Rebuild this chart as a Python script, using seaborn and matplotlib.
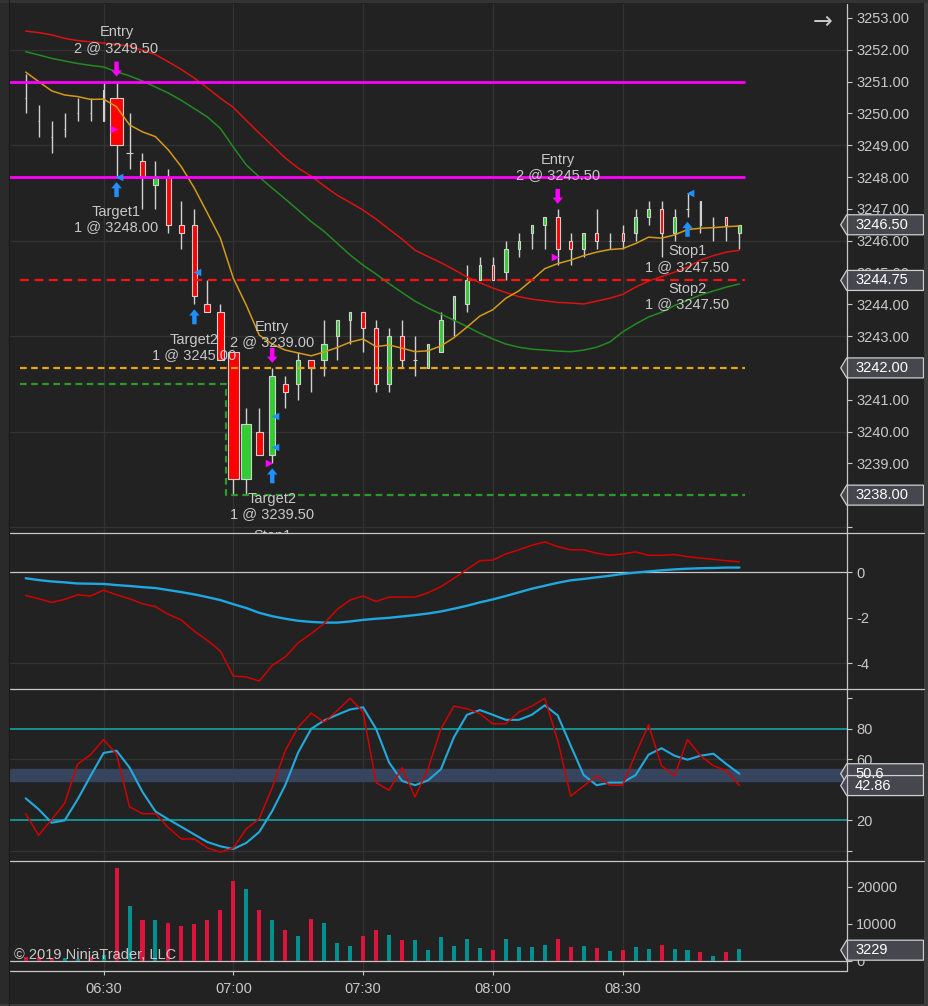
import numpy as np
import pandas as pd
import matplotlib
matplotlib.use("Agg")
import matplotlib.pyplot as plt
import seaborn as sns
from matplotlib.lines import Line2D
from matplotlib.patches import Polygon, Rectangle
from matplotlib import transforms

# ---- data (3 minute bars, 06:12 -> 08:57) ----
opens = [3250.50, 3249.75, 3249.25, 3249.50, 3250.00, 3250.00, 3249.75, 3250.50, 3248.75, 3248.50,
         3247.75, 3248.00, 3246.50, 3246.50, 3244.00, 3243.75, 3242.50, 3238.50, 3240.00, 3239.25,
         3241.50, 3241.50, 3242.25, 3242.25, 3243.00, 3243.50, 3243.75, 3243.25, 3241.50, 3243.00,
         3242.25, 3242.00, 3242.50, 3243.50, 3244.00, 3244.75, 3245.25, 3245.00, 3245.75, 3246.25,
         3246.50, 3246.75, 3246.00, 3245.75, 3246.25, 3246.00, 3246.25, 3246.25, 3246.75, 3247.00,
         3246.25, 3247.00, 3247.25, 3246.50, 3246.75, 3246.25]
highs = [3251.25, 3250.25, 3249.75, 3250.00, 3250.50, 3250.50, 3251.00, 3251.00, 3250.00, 3248.75,
         3248.50, 3248.25, 3247.25, 3247.00, 3244.75, 3244.00, 3242.50, 3240.75, 3240.75, 3242.00,
         3241.75, 3242.50, 3242.25, 3243.50, 3243.50, 3243.75, 3243.75, 3243.50, 3243.25, 3243.50,
         3243.00, 3242.75, 3243.75, 3244.25, 3245.25, 3245.50, 3245.50, 3246.00, 3246.25, 3246.50,
         3246.75, 3247.00, 3246.25, 3246.25, 3247.00, 3246.25, 3246.50, 3247.00, 3247.25, 3247.25,
         3247.00, 3247.50, 3247.25, 3246.75, 3246.75, 3246.50]
lows = [3250.00, 3249.25, 3248.75, 3249.25, 3249.75, 3249.75, 3249.75, 3248.00, 3248.25, 3247.00,
        3247.00, 3246.25, 3245.75, 3244.00, 3243.75, 3242.25, 3238.00, 3238.00, 3239.25, 3239.00,
        3240.75, 3241.00, 3241.25, 3241.75, 3242.25, 3242.75, 3242.50, 3241.25, 3241.25, 3242.00,
        3241.75, 3242.00, 3242.50, 3243.00, 3243.75, 3244.75, 3244.75, 3244.75, 3245.50, 3245.75,
        3245.75, 3245.25, 3245.25, 3245.50, 3245.75, 3245.75, 3245.75, 3246.00, 3246.50, 3245.50,
        3246.00, 3246.75, 3246.25, 3246.00, 3246.00, 3245.75]
closes = [3250.50, 3249.75, 3249.25, 3249.50, 3250.00, 3250.00, 3250.75, 3249.00, 3248.75, 3248.00,
          3248.00, 3246.50, 3246.25, 3244.25, 3243.75, 3242.25, 3238.50, 3240.25, 3239.25, 3241.75,
          3241.25, 3242.25, 3242.00, 3242.75, 3243.50, 3243.75, 3243.25, 3241.50, 3243.00, 3242.25,
          3242.25, 3242.75, 3243.50, 3244.25, 3244.75, 3245.25, 3244.75, 3245.75, 3246.00, 3246.50,
          3246.75, 3245.75, 3245.75, 3246.25, 3246.00, 3246.00, 3246.00, 3246.75, 3247.00, 3246.25,
          3246.75, 3247.00, 3246.50, 3246.50, 3246.50, 3246.50]
volume = [1100, 1200, 800, 900, 600, 1100, 1500, 25000, 14900, 11100,
          10900, 10300, 9500, 10000, 11100, 13800, 21400, 19300, 13800, 11100,
          8400, 6800, 11400, 10300, 4900, 4100, 6800, 8400, 7100, 5700,
          5700, 3000, 6500, 4100, 6000, 3500, 3000, 6000, 3800, 3800,
          4300, 6000, 3800, 4100, 3500, 2700, 3000, 3800, 3300, 4300,
          3300, 3000, 2400, 1400, 2400, 3229]
vol_side = list("ddduududud" "uddddddudu" "duduuuddud" "uuuuuuduuu" "uddududuud" "uududu")

ma_fast = [3251.30, 3251.00, 3250.71, 3250.58, 3250.53, 3250.44, 3250.45, 3250.21, 3249.64, 3249.42,
           3249.27, 3248.85, 3248.32, 3247.65, 3246.87, 3246.08, 3244.82, 3243.97, 3243.03, 3242.75,
           3242.56, 3242.47, 3242.38, 3242.50, 3242.64, 3242.81, 3242.91, 3242.67, 3242.72, 3242.62,
           3242.51, 3242.54, 3242.69, 3242.95, 3243.28, 3243.63, 3243.83, 3244.19, 3244.42, 3244.76,
           3245.12, 3245.28, 3245.39, 3245.53, 3245.64, 3245.72, 3245.75, 3245.91, 3246.11, 3246.08,
           3246.18, 3246.35, 3246.39, 3246.41, 3246.44, 3246.46]
ma_mid = [3251.94, 3251.84, 3251.73, 3251.65, 3251.57, 3251.51, 3251.46, 3251.31, 3251.18, 3251.02,
          3250.83, 3250.64, 3250.41, 3250.15, 3249.89, 3249.53, 3248.94, 3248.38, 3248.00, 3247.65,
          3247.31, 3246.96, 3246.60, 3246.29, 3245.92, 3245.55, 3245.23, 3244.95, 3244.65, 3244.37,
          3244.10, 3243.88, 3243.69, 3243.50, 3243.30, 3243.09, 3242.91, 3242.75, 3242.65, 3242.59,
          3242.56, 3242.53, 3242.51, 3242.56, 3242.65, 3242.81, 3243.13, 3243.38, 3243.60, 3243.75,
          3243.96, 3244.13, 3244.29, 3244.42, 3244.54, 3244.64]
ma_slow = [3252.59, 3252.54, 3252.47, 3252.36, 3252.29, 3252.25, 3252.21, 3252.17, 3252.12, 3251.99,
           3251.85, 3251.62, 3251.38, 3251.11, 3250.80, 3250.48, 3250.19, 3249.78, 3249.38, 3248.99,
           3248.60, 3248.28, 3248.03, 3247.72, 3247.43, 3247.20, 3246.96, 3246.68, 3246.36, 3246.05,
           3245.70, 3245.50, 3245.31, 3245.09, 3244.86, 3244.68, 3244.51, 3244.37, 3244.24, 3244.16,
           3244.11, 3244.06, 3244.04, 3244.01, 3244.10, 3244.19, 3244.31, 3244.54, 3244.73, 3244.87,
           3245.01, 3245.17, 3245.39, 3245.53, 3245.64, 3245.70]

macd = [-1.02, -1.16, -1.32, -1.19, -0.99, -1.04, -0.78, -0.99, -1.16, -1.38,
        -1.51, -1.85, -2.10, -2.59, -2.99, -3.46, -4.56, -4.60, -4.78, -4.09,
        -3.72, -3.10, -2.69, -2.25, -1.63, -1.22, -1.04, -1.28, -1.09, -1.09,
        -1.09, -0.90, -0.63, -0.26, 0.13, 0.51, 0.54, 0.81, 0.99, 1.19,
        1.34, 1.13, 0.99, 0.99, 0.84, 0.75, 0.81, 0.90, 0.75, 0.75,
        0.78, 0.69, 0.63, 0.57, 0.51, 0.46]
macd_avg = [-0.26, -0.34, -0.40, -0.44, -0.49, -0.50, -0.51, -0.56, -0.60, -0.65,
            -0.69, -0.78, -0.87, -0.97, -1.09, -1.22, -1.40, -1.57, -1.78, -1.93,
            -2.04, -2.13, -2.18, -2.21, -2.21, -2.16, -2.09, -2.04, -2.00, -1.94,
            -1.88, -1.81, -1.72, -1.60, -1.47, -1.32, -1.19, -1.04, -0.88, -0.72,
            -0.59, -0.46, -0.35, -0.29, -0.22, -0.15, -0.07, -0.01, 0.04, 0.09,
            0.13, 0.16, 0.18, 0.19, 0.21, 0.21]

stoch_k = [24.4, 10.3, 20.7, 31.2, 56.9, 63.1, 73.0, 63.5, 29.0, 24.4,
           24.4, 15.2, 7.9, 7.9, 2.0, -0.7, 2.0, 14.5, 21.3, 41.5,
           65.7, 81.1, 90.3, 84.4, 91.9, 100.0, 91.0, 44.8, 39.8, 54.5,
           35.4, 53.6, 80.0, 94.9, 93.2, 89.9, 83.3, 83.3, 91.0, 94.9,
           100.0, 72.3, 36.0, 42.6, 49.2, 43.1, 43.1, 63.5, 82.6, 55.8,
           49.2, 73.0, 62.4, 55.8, 52.5, 42.86]
stoch_d = [34.5, 27.3, 18.5, 20.0, 33.8, 49.2, 64.2, 65.7, 54.7, 38.7,
           25.9, 20.7, 15.8, 10.8, 5.9, 3.1, 1.3, 5.3, 12.5, 26.2,
           43.1, 64.6, 80.0, 85.5, 89.2, 92.7, 94.1, 80.0, 58.0, 45.9,
           43.1, 46.2, 53.6, 74.5, 89.2, 92.3, 89.2, 85.9, 85.9, 89.2,
           95.4, 88.8, 69.0, 49.7, 43.1, 44.8, 44.8, 49.7, 63.1, 67.3,
           62.4, 59.8, 62.4, 63.7, 56.9, 50.6]

time_ticks = [6, 16, 26, 36, 46]
time_labels = ["06:30", "07:00", "07:30", "08:00", "08:30"]

# strategy levels and executions
target_lines = [3251.00, 3248.00]
stop_line = 3244.75
avg_line = 3242.00
trail_levels = [3241.50, 3238.00]
trail_step_bar = 16
entry_fills = [(7, 3249.50), (19, 3239.00), (41, 3245.50)]
exit_fills = [(7, 3248.00), (13, 3245.00), (19, 3240.50), (19, 3239.50), (51, 3247.50)]
entry_arrow_bars = [7, 19, 41]
exit_arrow_bars = [7, 13, 19, 51]
order_labels = [(7, 3252.31, "Entry\n2 @ 3249.50"),
                (7, 3246.66, "Target1\n1 @ 3248.00"),
                (13, 3242.64, "Target2\n1 @ 3245.00"),
                (19, 3243.04, "Entry\n2 @ 3239.00"),
                (19, 3237.65, "Target2\n1 @ 3239.50"),
                (41, 3248.30, "Entry\n2 @ 3245.50"),
                (51, 3245.42, "Stop1\n1 @ 3247.50"),
                (51, 3244.25, "Stop2\n1 @ 3247.50")]

# ---- styling ----
BG = "#222222"
TXT = "#c8c8c8"
GRID = "#333333"
sns.set_theme(style="dark", rc={"axes.facecolor": BG, "figure.facecolor": BG,
                                "axes.unicode_minus": False, "axes.axisbelow": True})
plt.rcParams["font.family"] = ["Liberation Sans", "DejaVu Sans"]

W, H = 929, 1006
fig = plt.figure(figsize=(W / 100, H / 100), dpi=100)


def rect(x0, y0, x1, y1):
    return [x0 / W, 1 - y1 / H, (x1 - x0) / W, (y1 - y0) / H]


X0, X1 = 10, 847.5
panes = {"price": (4, 533), "macd": (533, 689), "stoch": (689, 861), "vol": (861, 971)}
ax_p = fig.add_axes(rect(X0, 4, X1, 533))
ax_m = fig.add_axes(rect(X0, 533, X1, 689), sharex=ax_p)
ax_s = fig.add_axes(rect(X0, 689, X1, 861), sharex=ax_p)
ax_v = fig.add_axes(rect(X0, 861, X1, 971), sharex=ax_p)
axes = [ax_p, ax_m, ax_s, ax_v]

x = np.arange(len(closes))
o, h, l, c = map(np.array, (opens, highs, lows, closes))
vol = np.array(volume)

# ---- price pane ----
ax_p.set_ylim(3236.81, 3253.44)
ppu_p = (533 - 4) / (3253.44 - 3236.81)
# candle body width follows volume (volume-weighted candles)
body_w = (0.8 + 0.46 * vol / 1000) / 12.975
fill = np.where(c > o, "#33cc33", "#ff0000")
ax_p.vlines(x, l, h, color="#d0d0d0", lw=1, zorder=3)
ax_p.bar(x, np.abs(c - o), bottom=np.minimum(o, c), width=body_w, color=fill,
         edgecolor="#d0d0d0", linewidth=0.8, zorder=4)

df_ma = pd.DataFrame({"bar": x, "fast": ma_fast, "mid": ma_mid, "slow": ma_slow})
sns.lineplot(data=df_ma, x="bar", y="slow", color="#dd1111", lw=1.1, ax=ax_p, zorder=5)
sns.lineplot(data=df_ma, x="bar", y="mid", color="#228b22", lw=1.1, ax=ax_p, zorder=5)
sns.lineplot(data=df_ma, x="bar", y="fast", color="#d49a1a", lw=1.1, ax=ax_p, zorder=5)

line_end = len(x) - 0.56
for lv in target_lines:
    ax_p.hlines(lv, -1.3, line_end, color="#ff00ff", lw=2, zorder=6)
ax_p.hlines(stop_line, -0.45, line_end, color="#ff1111", lw=1.6, ls=(0, (4, 2.5)), zorder=6)
ax_p.hlines(avg_line, -0.45, line_end, color="#e8a317", lw=1.6, ls=(0, (3, 2)), zorder=6)
step_x = trail_step_bar - 0.55
ax_p.plot([-0.45, step_x, step_x, line_end],
          [trail_levels[0], trail_levels[0], trail_levels[1], trail_levels[1]],
          color="#2a9a2a", lw=1.6, ls=(0, (3, 2)), zorder=6)

# execution markers
ex = pd.DataFrame(entry_fills, columns=["bar", "price"])
xx = pd.DataFrame(exit_fills, columns=["bar", "price"])
sns.scatterplot(x=ex["bar"] - 0.22, y=ex["price"], marker=">", color="#ff00ff", s=30,
                linewidth=0, ax=ax_p, zorder=9)
sns.scatterplot(x=xx["bar"] + 0.22, y=xx["price"], marker="<", color="#1e90ff", s=30,
                linewidth=0, ax=ax_p, zorder=9)

arrow_off = 5 / ppu_p
arrow_len = 15 / ppu_p
astyle = "simple,head_length=0.45,head_width=0.75,tail_width=0.32"
for b in entry_arrow_bars:
    tip = h[b] + arrow_off
    ax_p.annotate("", xy=(b, tip), xytext=(b, tip + arrow_len),
                  arrowprops=dict(arrowstyle=astyle, fc="#ff00ff", ec="none",
                                  shrinkA=0, shrinkB=0, mutation_scale=10), zorder=9)
for b in exit_arrow_bars:
    tip = l[b] - arrow_off
    ax_p.annotate("", xy=(b, tip), xytext=(b, tip - arrow_len),
                  arrowprops=dict(arrowstyle=astyle, fc="#1e90ff", ec="none",
                                  shrinkA=0, shrinkB=0, mutation_scale=10), zorder=9)

for b, yv, txt in order_labels:
    ax_p.text(b, yv, txt, ha="center", va="center", color=TXT, fontsize=10.5,
              linespacing=1.12, zorder=10)
ax_p.text(19, 3236.72, "Stop1", ha="center", va="center", color=TXT, fontsize=10.5,
          clip_on=True, zorder=10)

ax_p.set_yticks(np.arange(3237, 3254, 1.0))
ax_p.set_yticklabels([""] + [f"{v:.2f}" for v in np.arange(3238, 3254, 1.0)])
for g in np.arange(3237, 3254, 3):
    ax_p.axhline(g, color=GRID, lw=0.9, zorder=0)

# ---- MACD pane ----
ax_m.set_ylim(-5.13, 1.73)
df_m = pd.DataFrame({"bar": x, "macd": macd, "avg": macd_avg})
ax_m.axhline(0, color="#c8c8c8", lw=0.9, zorder=1)
ax_m.axhline(-4, color=GRID, lw=0.9, zorder=0)
sns.lineplot(data=df_m, x="bar", y="avg", color="#1ea7e1", lw=1.7, ax=ax_m, zorder=4)
sns.lineplot(data=df_m, x="bar", y="macd", color="#d40000", lw=1.1, ax=ax_m, zorder=5)
ax_m.set_yticks([0, -2, -4])
ax_m.set_yticklabels(["0", "-2", "-4"])

# ---- stochastics pane ----
ax_s.set_ylim(-6.55, 106.1)
ax_s.axhspan(46, 54, color="#36445e", zorder=1)
for g in (0, 60):
    ax_s.axhline(g, color=GRID, lw=0.9, zorder=0)
for g in (20, 80):
    ax_s.axhline(g, color="#129a9a", lw=1.3, zorder=2)
df_s = pd.DataFrame({"bar": x, "k": stoch_k, "d": stoch_d})
sns.lineplot(data=df_s, x="bar", y="d", color="#22aadd", lw=1.5, ax=ax_s, zorder=4)
sns.lineplot(data=df_s, x="bar", y="k", color="#d40000", lw=1.1, ax=ax_s, zorder=5)
ax_s.set_yticks([0, 20, 40, 60, 80, 100])
ax_s.set_yticklabels(["", "20", "40", "60", "80", ""])

# ---- volume pane ----
ax_v.set_ylim(-2690, 26880)
ax_v.axhline(0, color="#c8c8c8", lw=0.9, zorder=1)
df_v = pd.DataFrame({"bar": x, "vol": vol, "side": vol_side})
sns.barplot(data=df_v, x="bar", y="vol", hue="side", native_scale=True, dodge=False,
            palette={"d": "#dc143c", "u": "#009090"}, width=0.31, legend=False,
            edgecolor="none", linewidth=0, saturation=1, ax=ax_v, zorder=3)
ax_v.set_yticks([0, 10000, 20000])
ax_v.set_yticklabels(["0", "10000", "20000"])

# ---- shared axis cosmetics ----
ax_p.set_xlim(-1.21, 63.33)
for ax in axes:
    for s in ax.spines.values():
        s.set_visible(False)
    ax.set_xlabel("")
    ax.set_ylabel("")
    ax.yaxis.tick_right()
    ax.tick_params(axis="y", colors=TXT, labelsize=10.5, length=3.6, width=0.8,
                   pad=2.5, direction="out", left=False, right=True)
    for t in time_ticks:
        ax.axvline(t, color=GRID, lw=0.9, zorder=0)
    ax.grid(False)
for ax in axes[:-1]:
    ax.tick_params(axis="x", bottom=False, labelbottom=False)
ax_v.set_xticks(time_ticks)
ax_v.set_xticklabels(time_labels)
ax_v.tick_params(axis="x", colors=TXT, labelsize=10.5, length=3, width=0.8, pad=5,
                 bottom=True, labelbottom=True)


# price boxes on the right axis
def value_box(ax, pane, val, txt):
    ytop, ybot = pane
    lo, hi = ax.get_ylim()
    half = 10 * (hi - lo) / (ybot - ytop)
    tr = transforms.blended_transform_factory(fig.transFigure, ax.transData)
    pts = [(840.7 / W, val), (846.7 / W, val + half), (923.5 / W, val + half),
           (923.5 / W, val - half), (846.7 / W, val - half)]
    ax.add_patch(Polygon(pts, closed=True, transform=tr, clip_on=False, fc="#45464e",
                         ec="#cfcfcf", lw=0.9, zorder=20))
    ax.text(855 / W, val, txt, transform=tr, ha="left", va="center", color="white",
            fontsize=10.5, clip_on=False, zorder=21)


value_box(ax_p, panes["price"], closes[-1], f"{closes[-1]:.2f}")
value_box(ax_p, panes["price"], stop_line, f"{stop_line:.2f}")
value_box(ax_p, panes["price"], avg_line, f"{avg_line:.2f}")
value_box(ax_p, panes["price"], trail_levels[1], f"{trail_levels[1]:.2f}")
value_box(ax_s, panes["stoch"], stoch_d[-1], f"{stoch_d[-1]:.1f}")
value_box(ax_s, panes["stoch"], stoch_k[-1], f"{stoch_k[-1]:.2f}")
value_box(ax_v, panes["vol"], volume[-1] * 0.9, f"{volume[-1]}")

# frame lines and borders
def fline(xs, ys, color="#c8c8c8", lw=0.9):
    fig.add_artist(Line2D([v / W for v in xs], [1 - v / H for v in ys], color=color, lw=lw))


for yy in (533, 689, 861):
    fline([X0, 924], [yy, yy])
fline([X0, X1], [971, 971])
fline([X1, X1], [4, 971])
fig.add_artist(Rectangle((0, 0), X0 / W, 1, transform=fig.transFigure, fc="#2a2a2a", ec="none"))
fig.add_artist(Rectangle((924 / W, 0), 5 / W, 1, transform=fig.transFigure, fc="#3c3c3c", ec="none"))
fig.add_artist(Rectangle((0, 1 - 3 / H), 1, 3 / H, transform=fig.transFigure, fc="#333333", ec="none"))
fig.add_artist(Rectangle((0, 0), 1, 2 / H, transform=fig.transFigure, fc="#3a3a3a", ec="none"))
fline([9.5, 9.5], [0, 1006], color="#1a1a1a", lw=0.8)

fig.text(823 / W, 1 - 22 / H, "\u2192", ha="center", va="center", color=TXT, fontsize=17,
         family=["DejaVu Sans"])
fig.text(14 / W, 1 - 955 / H, "\u00a9 2019 NinjaTrader, LLC", ha="left", va="center",
         color=TXT, fontsize=10.5)

fig.savefig("out.png", dpi=100, facecolor=BG)
